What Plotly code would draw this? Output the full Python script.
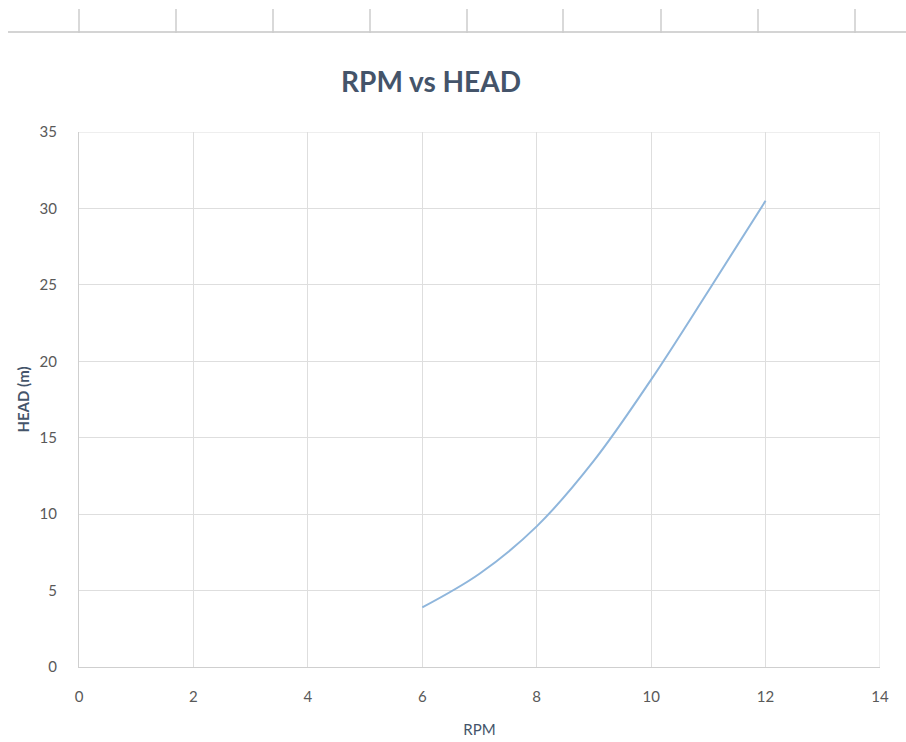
import plotly.graph_objects as go

rpm = [6, 7, 8, 9, 10, 11, 12]
head = [3.9, 6.1, 9.2, 13.5, 18.8, 24.6, 30.5]

x_ticks = [0, 2, 4, 6, 8, 10, 12, 14]
y_ticks = [0, 5, 10, 15, 20, 25, 30, 35]

fig = go.Figure()
fig.add_trace(go.Scatter(
    x=rpm, y=head, mode="lines",
    line=dict(color="#8fb6dc", width=2, shape="spline", smoothing=1.0),
    showlegend=False, hoverinfo="skip"))

grid = "#dedede"
fig.update_layout(
    width=906, height=742,
    margin=dict(l=79, r=26, t=132, b=75),
    paper_bgcolor="white", plot_bgcolor="white",
    font=dict(family="Lato, Carlito, sans-serif", color="#595959"),
    title=dict(text="<b>RPM vs HEAD</b>", x=431/906, xanchor="center",
               y=1 - 82/742, yanchor="middle",
               font=dict(size=28, color="#44546a", family="Lato, sans-serif")),
    xaxis=dict(range=[0, 14], tickvals=x_ticks, showgrid=True, gridcolor=grid,
               gridwidth=1, showline=True, linecolor="#cfcfcf", zeroline=False,
               ticks="", tickfont=dict(size=15, color="#595959"),
               ticklabelstandoff=16, automargin=False,
               title=dict(text="RPM", font=dict(size=15, color="#44546a"), standoff=20)),
    yaxis=dict(range=[0, 35], tickvals=y_ticks, showgrid=True, gridcolor=grid,
               gridwidth=1, showline=True, linecolor="#cfcfcf", zeroline=False,
               ticks="", tickfont=dict(size=15, color="#595959"),
               ticklabelstandoff=18, automargin=False,
               title=dict(text="<b>HEAD (m)</b>", font=dict(size=15, color="#44546a"), standoff=6)),
)

# right and top border of plot area (light gridline look)
fig.add_shape(type="line", xref="x", yref="y", x0=14, x1=14, y0=0, y1=35,
              line=dict(color=grid, width=1))
fig.add_shape(type="line", xref="x", yref="y", x0=0, x1=14, y0=35, y1=35,
              line=dict(color=grid, width=1))

# spreadsheet column separators visible at the top of the screenshot
col_x = [79, 176, 273, 370, 467, 563, 661, 758, 855]
fig.add_shape(type="line", xref="paper", yref="paper",
              x0=(8 - 79) / (906 - 105), x1=(906 - 79) / (906 - 105),
              y0=(742 - 75 - 32) / (742 - 207), y1=(742 - 75 - 32) / (742 - 207),
              line=dict(color="#d4d4d4", width=2))
for cx in col_x:
    px = (cx - 79) / (906 - 105)
    fig.add_shape(type="line", xref="paper", yref="paper",
                  x0=px, x1=px,
                  y0=(742 - 75 - 33) / (742 - 207), y1=(742 - 75 - 9) / (742 - 207),
                  line=dict(color="#cccccc", width=1.5))

fig.write_html("out.html")
